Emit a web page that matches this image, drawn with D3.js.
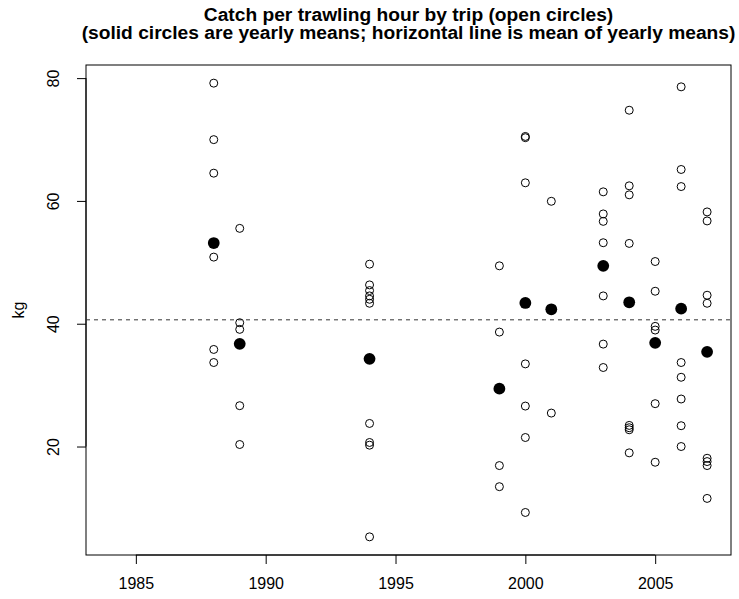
<!DOCTYPE html>
<html>
<head>
<meta charset="utf-8">
<script src="https://cdn.jsdelivr.net/npm/d3@7/dist/d3.min.js"></script>
<style>
  html, body { margin: 0; padding: 0; background: #fff; }
  svg { display: block; font-family: "Liberation Sans", Arial, Helvetica, sans-serif; }
</style>
</head>
<body>
<svg id="chart" width="739" height="599"></svg>
<script>
// Catch per trawling hour (kg) for individual trips, grouped by year
const years = [1988, 1989, 1994, 1999, 2000, 2001, 2003, 2004, 2005, 2006, 2007];

const tripCatch = [
  [79.18, 69.98, 64.52, 50.85, 35.81, 33.68],
  [55.53, 40.16, 39.08, 26.65, 20.33],
  [49.70, 46.32, 45.40, 44.53, 43.98, 43.33, 23.76, 20.66, 20.22, 5.29],
  [49.43, 38.64, 16.90, 13.46],
  [70.50, 70.30, 62.95, 33.46, 26.59, 21.47, 9.26],
  [59.94, 25.45],
  [61.48, 57.88, 56.67, 53.19, 44.53, 36.68, 32.87],
  [74.77, 62.46, 60.99, 53.08, 23.44, 23.06, 22.73, 18.97],
  [50.13, 45.29, 39.57, 38.97, 26.98, 17.44],
  [78.58, 65.12, 62.34, 33.68, 31.28, 27.74, 23.39, 20.00],
  [58.21, 56.74, 44.64, 43.33, 18.09, 17.55, 16.90, 11.55]
];

// Yearly means (solid circles)
const yearlyMeans = [53.14, 36.73, 34.28, 29.43, 43.38, 42.35, 49.43, 43.49, 36.89, 42.45, 35.42];

const xTicks = [1985, 1990, 1995, 2000, 2005];
const yTicks = [20, 40, 60, 80];

const titleLines = [
  "Catch per trawling hour by trip (open circles)",
  "(solid circles are yearly means; horizontal line is mean of yearly means)"
];
const yLabel = "kg";

// ---- layout ----
const svg = d3.select("#chart");
const plot = { left: 86, right: 731, top: 65, bottom: 555 };

// R-style 4% padding around the data ranges
const xLo = 1984, xHi = 2007;
const xPad = (xHi - xLo) * 0.04;
const allVals = tripCatch.flat();
const yLo = d3.min(allVals), yHi = d3.max(allVals);
const yPad = (yHi - yLo) * 0.04;

const x = d3.scaleLinear().domain([xLo - xPad, xHi + xPad]).range([plot.left, plot.right]);
const y = d3.scaleLinear().domain([yLo - yPad, yHi + yPad]).range([plot.bottom, plot.top]);

// ---- axes ----
const xAxis = d3.axisBottom(x).tickValues(xTicks).tickFormat(d3.format("d"))
  .tickSize(9).tickPadding(14).tickSizeOuter(0);
const gx = svg.append("g").attr("transform", `translate(0,${plot.bottom})`).call(xAxis);
gx.select(".domain").attr("d", `M${x(xTicks[0])},0H${x(xTicks[xTicks.length - 1])}`);

const yAxis = d3.axisLeft(y).tickValues(yTicks).tickFormat(d3.format("d"))
  .tickSize(9).tickSizeOuter(0);
const gy = svg.append("g").attr("transform", `translate(${plot.left},0)`).call(yAxis);
gy.select(".domain").attr("d", `M0,${y(yTicks[0])}V${y(yTicks[yTicks.length - 1])}`);

[gx, gy].forEach(g => {
  g.selectAll("path, line").attr("stroke", "#000").attr("stroke-width", 1);
  g.selectAll("text").attr("fill", "#000").attr("font-size", 16)
    .attr("font-family", "'Liberation Sans', Arial, sans-serif");
});

// rotated y tick labels, reading bottom to top
gy.selectAll(".tick text")
  .attr("x", null).attr("dy", null)
  .attr("text-anchor", "middle")
  .attr("transform", "translate(-27,0) rotate(-90)");

// ---- plot box ----
svg.append("rect")
  .attr("x", plot.left).attr("y", plot.top)
  .attr("width", plot.right - plot.left).attr("height", plot.bottom - plot.top)
  .attr("fill", "none").attr("stroke", "#000").attr("stroke-width", 1);

// ---- mean of yearly means ----
const grandMean = d3.mean(yearlyMeans);
svg.append("line")
  .attr("x1", plot.left).attr("x2", plot.right)
  .attr("y1", y(grandMean)).attr("y2", y(grandMean))
  .attr("stroke", "#333").attr("stroke-width", 1)
  .attr("stroke-dasharray", "4,4");

// ---- individual trips (open circles) ----
const trips = years.flatMap((yr, i) => tripCatch[i].map(v => ({ year: yr, value: v })));
svg.append("g").selectAll("circle").data(trips).join("circle")
  .attr("cx", d => x(d.year)).attr("cy", d => y(d.value))
  .attr("r", 4.0)
  .attr("fill", "none").attr("stroke", "#000").attr("stroke-width", 1);

// ---- yearly means (solid circles) ----
svg.append("g").selectAll("circle").data(years.map((yr, i) => ({ year: yr, value: yearlyMeans[i] })))
  .join("circle")
  .attr("cx", d => x(d.year)).attr("cy", d => y(d.value))
  .attr("r", 5.9)
  .attr("fill", "#000");

// ---- labels ----
// two-line title as a single text block
const cx = (plot.left + plot.right) / 2;
const title = svg.append("text")
  .attr("text-anchor", "middle")
  .attr("font-weight", "bold").attr("font-size", 19.2);
title.selectAll("tspan").data(titleLines).join("tspan")
  .attr("x", cx).attr("y", (d, i) => 21 + i * 18)
  .text(d => d);

svg.append("text")
  .attr("transform", `translate(24,${(plot.top + plot.bottom) / 2}) rotate(-90)`)
  .attr("text-anchor", "middle")
  .attr("font-size", 16)
  .text(yLabel);
</script>
</body>
</html>
